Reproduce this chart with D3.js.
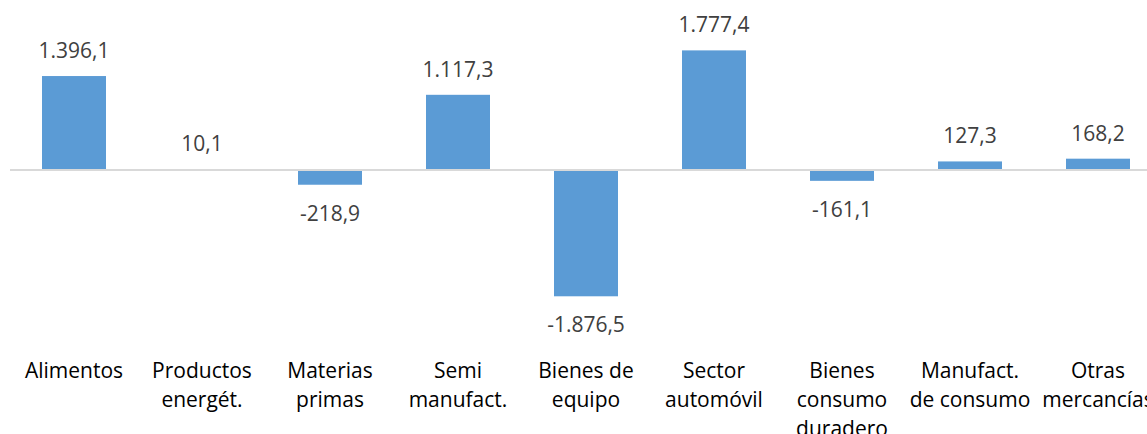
<!DOCTYPE html>
<html>
<head>
    <meta charset="utf-8" />
    <title>Saldo comercial por sectores</title>
    <style>
        body { margin: 0; background: #fff; }
        svg { display: block; }
        .value { font-family: "Open Sans", sans-serif; font-size: 21px; fill: #404040; }
        .cat { font-family: "Open Sans", sans-serif; font-size: 21px; fill: #000; }
    </style>
</head>
<body>
    <script src="https://cdn.jsdelivr.net/npm/d3@7/dist/d3.min.js"></script>
    <script>
    // datos
    var categories = ["Alimentos", "Productos energét.", "Materias primas", "Semi manufact.",
        "Bienes de equipo", "Sector automóvil", "Bienes consumo duradero",
        "Manufact. de consumo", "Otras mercancías"];
    var catLines = [["Alimentos"], ["Productos", "energét."], ["Materias", "primas"],
        ["Semi", "manufact."], ["Bienes de", "equipo"], ["Sector", "automóvil"],
        ["Bienes", "consumo", "duradero"], ["Manufact.", "de consumo"], ["Otras", "mercancías"]];
    var values = [1396.1, 10.1, -218.9, 1117.3, -1876.5, 1777.4, -161.1, 127.3, 168.2];

    var width = 1147,
        height = 434;

    var svg = d3.select("body").append("svg")
        .attr("width", width)
        .attr("height", height);

    var x = d3.scaleBand()
        .domain(categories)
        .range([10, 10 + 9 * 128])
        .paddingInner(0.5)
        .paddingOuter(0.25);

    var y = d3.scaleLinear()
        .domain([-2000, 2000])
        .range([170 + 134.6, 170 - 134.6]);

    var locale = d3.formatLocale({decimal: ",", thousands: ".", grouping: [3], currency: ["", ""], minus: "-"});
    var fmt = locale.format(",.1f");

    svg.selectAll("rect.bar")
        .data(values)
      .enter().append("rect")
        .attr("class", "bar")
        .attr("x", function(d, i){ return x(categories[i]); })
        .attr("width", x.bandwidth())
        .attr("y", function(d){ return y(Math.max(0, d)); })
        .attr("height", function(d){ return Math.abs(y(d) - y(0)); })
        .attr("fill", "#5b9bd5");

    // linea del cero
    svg.append("line")
        .attr("x1", 10)
        .attr("x2", width)
        .attr("y1", y(0))
        .attr("y2", y(0))
        .attr("stroke", "#d9d9d9")
        .attr("stroke-width", 2);

    svg.selectAll("text.value")
        .data(values)
      .enter().append("text")
        .attr("class", "value")
        .attr("text-anchor", "middle")
        .attr("x", function(d, i){ return x(categories[i]) + x.bandwidth() / 2; })
        .attr("y", function(d){ return d >= 0 ? y(d) - 18 : y(d) + 36; })
        .text(function(d){ return fmt(d); });

    var cats = svg.selectAll("text.cat")
        .data(catLines)
      .enter().append("text")
        .attr("class", "cat")
        .attr("text-anchor", "middle")
        .attr("x", function(d, i){ return x(categories[i]) + x.bandwidth() / 2; })
        .attr("y", 378);

    cats.selectAll("tspan")
        .data(function(d){ return d; })
      .enter().append("tspan")
        .attr("x", function(){ return d3.select(this.parentNode).attr("x"); })
        .attr("dy", function(d, i){ return i === 0 ? 0 : 29; })
        .text(function(d){ return d; });
    </script>
</body>
</html>
